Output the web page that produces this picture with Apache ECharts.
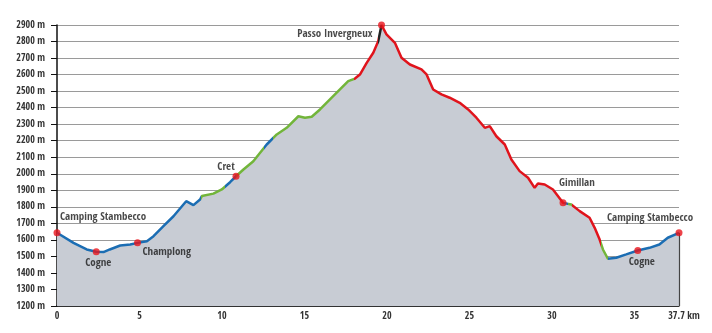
<!DOCTYPE html>
<html><head><meta charset="utf-8">
<script src="https://cdn.jsdelivr.net/npm/echarts@6/dist/echarts.min.js"></script>
<style>html,body{margin:0;padding:0;background:#fff}#c{width:712px;height:333px}</style>
</head><body><div id="c"></div>
<script>
const km = [0, 1.0, 1.8, 2.38, 2.82, 3.2, 3.83, 4.44, 4.88, 5.45, 5.85, 6.45, 7.06, 7.83, 8.27, 8.67, 8.78, 9.48, 9.99, 10.49, 10.85, 11.3, 11.9, 12.71, 13.32, 13.92, 14.63, 15.03, 15.44, 15.94, 16.74, 17.65, 18.06, 18.36, 18.77, 19.17, 19.47, 19.67, 19.97, 20.48, 20.88, 21.39, 22.09, 22.4, 22.8, 23.3, 23.8, 24.41, 24.92, 25.42, 25.93, 26.23, 26.63, 27.14, 27.54, 28.04, 28.55, 28.95, 29.15, 29.56, 30.06, 30.67, 31.17, 31.68, 32.28, 32.59, 32.89, 33.09, 33.39, 33.9, 34.5, 35.2, 35.91, 36.51, 37.02, 37.7];
const elevation = [1643, 1582, 1542, 1528, 1526, 1542, 1566, 1572, 1582, 1592, 1622, 1683, 1743, 1834, 1810, 1844, 1865, 1880, 1905, 1949, 1985, 2026, 2076, 2177, 2238, 2278, 2348, 2339, 2345, 2389, 2469, 2560, 2576, 2600, 2671, 2732, 2802, 2900, 2843, 2792, 2702, 2661, 2631, 2601, 2510, 2480, 2460, 2429, 2389, 2339, 2278, 2288, 2227, 2177, 2086, 2016, 1976, 1915, 1941, 1935, 1905, 1824, 1814, 1774, 1734, 1673, 1602, 1542, 1486, 1492, 1512, 1536, 1552, 1572, 1613, 1643];
const placeNames = ['Camping Stambecco', 'Cogne', 'Champlong', 'Cret', 'Passo Invergneux', 'Gimillan', 'Cogne', 'Camping Stambecco'];
const placeKm = [0, 2.38, 4.88, 10.85, 19.67, 30.67, 35.2, 37.7];
const placeElev = [1643, 1528, 1582, 1985, 2900, 1824, 1536, 1643];
// segment colours along the route: [from km, to km, type]
const segStart = [0, 8.75, 10.2, 10.85, 12.55, 13.1, 18.0, 19.45, 19.7, 30.7, 30.95, 31.2, 33.0, 33.4];
const segEnd = [8.75, 10.2, 10.85, 12.55, 13.1, 18.0, 19.45, 19.7, 30.7, 30.95, 31.2, 33.0, 33.4, 37.8];
const segType = ['blue', 'green', 'blue', 'green', 'blue', 'green', 'red', 'black', 'red', 'blue', 'green', 'red', 'green', 'blue'];
const xLabelValues = [0, 5, 10, 15, 20, 25, 30, 35, 37.7];
const yTicks = [1200, 2900, 100];

const COLORS = {blue: '#1b6db3', green: '#72b53a', red: '#e0141c', black: '#222'};
const FONT = "'Open Sans Condensed', 'DejaVu Sans Condensed', sans-serif";
const labelLayout = [
  {align: 'left', offset: [3, -16]},
  {align: 'center', offset: [2, 11]},
  {align: 'left', offset: [5, 9]},
  {align: 'center', offset: [-10, -9]},
  {align: 'right', offset: [-9, 9]},
  {align: 'left', offset: [-4, -20]},
  {align: 'center', offset: [4, 12]},
  {align: 'left', offset: [-72, -15]}
];

const profile = km.map((k, i) => [k, elevation[i]]);
const pieces = segStart.map((s, i) => ({gte: s, lt: segEnd[i], color: COLORS[segType[i]]}));
const places = placeNames.map((n, i) => ({
  name: n, value: [placeKm[i], placeElev[i]],
  label: {show: true, position: 'inside', formatter: n, align: labelLayout[i].align,
    verticalAlign: 'middle', offset: labelLayout[i].offset,
    color: '#1a1a1a', fontSize: 11, fontWeight: 'normal', fontFamily: FONT}
}));

const chart = echarts.init(document.getElementById('c'), null, {renderer: 'canvas'});
chart.setOption({
  animation: false,
  backgroundColor: '#fff',
  grid: {left: 57, right: 33, top: 25, bottom: 27, containLabel: false},
  xAxis: {
    type: 'value', min: 0, max: 37.7, interval: 5,
    axisLine: {show: true, lineStyle: {color: '#111', width: 1.5}},
    axisTick: {show: true, inside: true, length: 6, lineStyle: {color: '#111', width: 1}},
    minorTick: {show: true, splitNumber: 5, length: 3, lineStyle: {color: '#111', width: 1}},
    splitLine: {show: false},
    axisLabel: {
      customValues: xLabelValues, margin: 5, color: '#333', fontSize: 10, fontFamily: FONT,
      formatter: v => Math.abs(v - 37.7) < 1e-6 ? '{a|37.7}{b| km}' : String(v),
      rich: {a: {padding: [0, 0, 0, 10], fontSize: 10, fontFamily: FONT, color: '#333'},
             b: {fontSize: 10, fontFamily: FONT, color: '#333'}}
    }
  },
  yAxis: {
    type: 'value', min: yTicks[0], max: yTicks[1], interval: yTicks[2],
    axisLine: {show: true, lineStyle: {color: '#111', width: 1.5}},
    axisTick: {show: true, length: 6, lineStyle: {color: '#111'}},
    splitLine: {show: true, lineStyle: {color: '#9a9a9a', width: 1}},
    axisLabel: {margin: 12, color: '#333', fontSize: 10, fontFamily: FONT, formatter: v => v + ' m'}
  },
  visualMap: {
    show: false, type: 'piecewise', dimension: 0, seriesIndex: 1,
    pieces: pieces
  },
  series: [
    {
      type: 'line', data: profile, symbol: 'none', silent: true,
      lineStyle: {width: 0, opacity: 0},
      areaStyle: {color: '#c8ccd4', opacity: 1, origin: 'start'},
      markLine: {
        silent: true, symbol: ['none', 'none'], label: {show: false},
        lineStyle: {color: '#444', width: 1.2, type: 'solid'},
        data: [[{coord: [km[km.length - 1], yTicks[0]]}, {coord: [km[km.length - 1], elevation[elevation.length - 1]]}]]
      },
      z: 1
    },
    {
      type: 'line', data: profile, symbol: 'none', smooth: false,
      lineStyle: {width: 2.5}, z: 3
    },
    {
      type: 'scatter', data: places, symbolSize: 7,
      itemStyle: {color: '#e8141c'}, z: 5
    }
  ]
});
</script></body></html>
